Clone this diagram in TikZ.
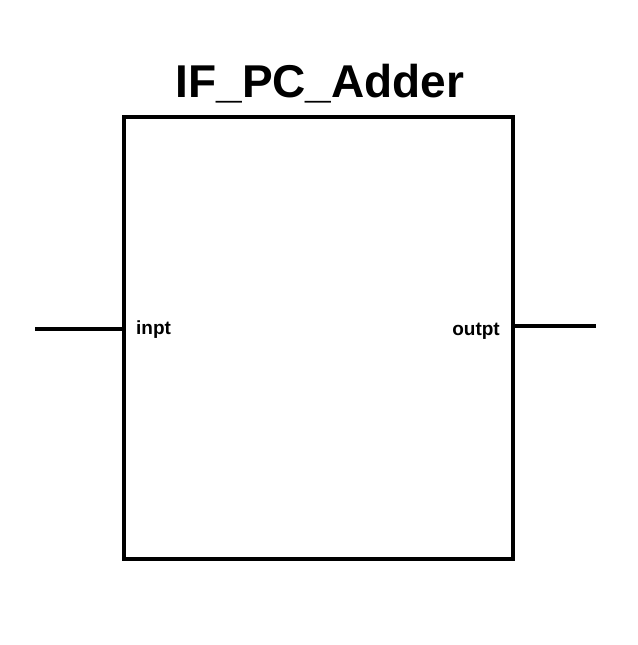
\documentclass[tikz,border=0pt]{standalone}
\usepackage{fontspec}
\setmainfont{Liberation Sans}
\usetikzlibrary{positioning}
\tikzset{
    block/.style={rectangle, draw, line width=4pt, minimum width=389pt, minimum height=442pt, inner sep=0pt},
    wire/.style={draw, line width=4pt},
    port/.style={font=\fontsize{19}{21}\selectfont\bfseries, inner sep=0pt},
    title/.style={font=\fontsize{46}{50}\selectfont\bfseries, inner sep=0pt}
}

\begin{document}
\begin{tikzpicture}[x=1pt, y=1pt]
    \useasboundingbox (0,0) rectangle (637,645);
    \node [block] (adder) at (318.5,307) {};
    \node [title, anchor=base] (name) at (320,547) {IF\_PC\_Adder};
    \coordinate (inend) at (35,316);
    \coordinate (outend) at (596,319);
    \node [port, anchor=west] (inpt) at (136,315) {inpt};
    \node [port, anchor=east] (outpt) at (500,314) {outpt};

    \path [wire] (inend) -- (inend -| adder.west);
    \path [wire] (outend -| adder.east) -- (outend);
\end{tikzpicture}
\end{document}
